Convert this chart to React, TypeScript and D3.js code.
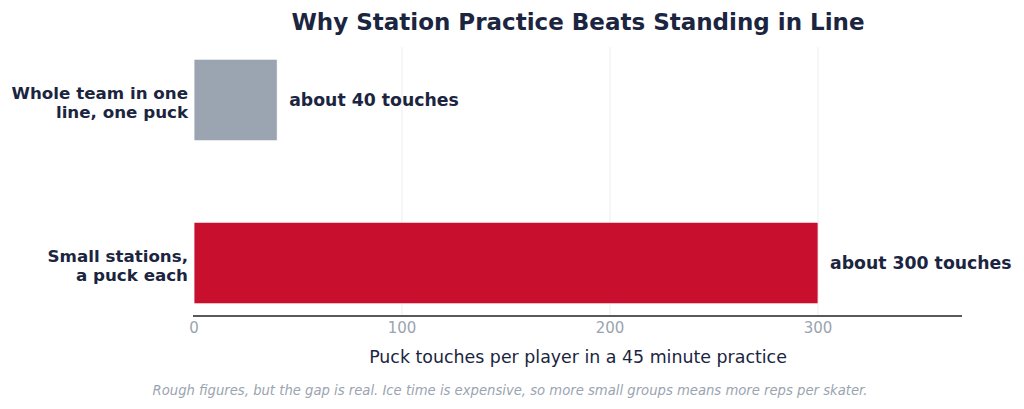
import * as d3 from "d3"

const categories = ["Whole team in one line, one puck", "Small stations, a puck each"]
const categoryLines = [
  ["Whole team in one", "line, one puck"],
  ["Small stations,", "a puck each"],
]
const touches = [40, 300]
const valueLabels = ["about 40 touches", "about 300 touches"]
const barColors = ["#9ba5b1", "#c8102e"]
const xTicks = [0, 100, 200, 300]

const W = 1024
const H = 409
const FONT = "DejaVu Sans, Liberation Sans, sans-serif"
const NAVY = "#1b2540"
const GREY = "#9aa4b1"

export default function App() {
  const x = d3.scaleLinear().domain([0, 369.2]).range([194, 962])
  // top category sits higher, matplotlib-style positions with margins
  const y = d3.scaleLinear().domain([-0.325, 1.325]).range([316, 47])
  const pos = (i: number) => categories.length - 1 - i
  const half = 0.25

  return (
    <svg
      width={W}
      height={H}
      style={{ position: "absolute", left: 0, top: 0, background: "#fff" }}
      fontFamily={FONT}
    >
      <text x={578} y={22} dy="0.35em" textAnchor="middle" fontSize={23} fontWeight="bold" fill={NAVY}>
        Why Station Practice Beats Standing in Line
      </text>

      {xTicks.slice(1).map((t) => (
        <line key={t} x1={x(t)} x2={x(t)} y1={y(1.325)} y2={y(-0.325)} stroke="#eceef1" strokeWidth={1} />
      ))}

      {touches.map((v, i) => (
        <rect
          key={categories[i]}
          x={x(0)}
          y={y(pos(i) + half)}
          width={x(v) - x(0)}
          height={y(pos(i) - half) - y(pos(i) + half)}
          fill={barColors[i]}
          stroke="#fff"
          strokeWidth={0.8}
        />
      ))}

      {touches.map((v, i) => (
        <text
          key={valueLabels[i]}
          x={x(v) + 12}
          y={y(pos(i))}
          dy="0.35em"
          fontSize={17.3}
          fontWeight="bold"
          fill={NAVY}
        >
          {valueLabels[i]}
        </text>
      ))}

      {categoryLines.map((lines, i) => (
        <text key={categories[i]} x={188} y={y(pos(i))} textAnchor="end" fontSize={16.7} fontWeight="bold" fill={NAVY}>
          {lines.map((l, j) => (
            <tspan key={l} x={188} dy={j === 0 ? "-0.08em" : "1.15em"}>
              {l}
            </tspan>
          ))}
        </text>
      ))}

      <line x1={x(0) - 1} x2={962} y1={316} y2={316} stroke="#222" strokeWidth={1.3} />

      {xTicks.map((t) => (
        <text key={t} x={x(t)} y={328} dy="0.35em" textAnchor="middle" fontSize={15} fill={GREY}>
          {t}
        </text>
      ))}

      <text x={578} y={357} dy="0.35em" textAnchor="middle" fontSize={17.4} fill={NAVY}>
        Puck touches per player in a 45 minute practice
      </text>

      <text x={510} y={390} dy="0.35em" textAnchor="middle" fontSize={13.2} fontStyle="italic" fill={GREY}>
        Rough figures, but the gap is real. Ice time is expensive, so more small groups means more reps per skater.
      </text>
    </svg>
  )
}
